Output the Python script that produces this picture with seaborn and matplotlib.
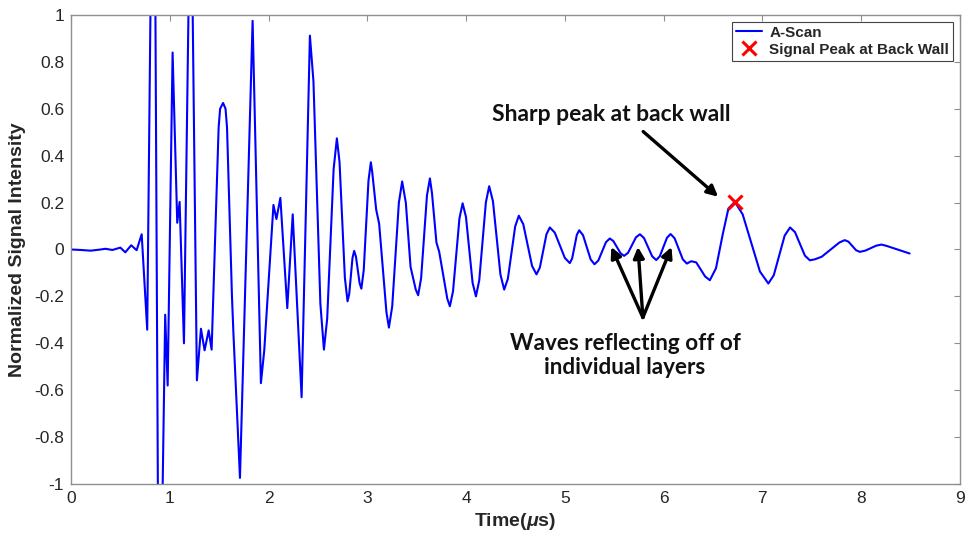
import matplotlib
matplotlib.use("Agg")
import matplotlib.pyplot as plt
import seaborn as sns
import pandas as pd

# ---- data (time in microseconds, normalized intensity) ----
time_us = [0.00, 0.10, 0.20, 0.30, 0.35, 0.42, 0.47, 0.50, 0.55, 0.61, 0.665, 0.716, 0.772,
           0.805, 0.83, 0.855, 0.88, 0.904, 0.928, 0.954, 0.979, 1.029, 1.076, 1.100, 1.144,
           1.19, 1.211, 1.232, 1.275, 1.316, 1.353, 1.394, 1.424, 1.495, 1.51, 1.54, 1.565,
           1.58, 1.63, 1.645, 1.711, 1.839, 1.923, 1.957, 2.05, 2.08, 2.12, 2.19, 2.245,
           2.335, 2.419, 2.455, 2.525, 2.561, 2.594, 2.659, 2.692, 2.719, 2.773, 2.80, 2.817,
           2.85, 2.867, 2.885, 2.922, 2.94, 2.964, 3.012, 3.036, 3.05, 3.09, 3.12, 3.194,
           3.219, 3.2525, 3.3195, 3.353, 3.39, 3.438, 3.49, 3.515, 3.545, 3.604, 3.634, 3.655,
           3.70, 3.728, 3.81, 3.836, 3.868, 3.933, 3.965, 3.999, 4.066, 4.10, 4.1335, 4.2005,
           4.234, 4.272, 4.348, 4.386, 4.423, 4.497, 4.534, 4.579, 4.668, 4.713, 4.747, 4.814,
           4.848, 4.898, 5.00, 5.05, 5.074, 5.121, 5.145, 5.184, 5.261, 5.30, 5.339, 5.416,
           5.455, 5.491, 5.564, 5.60, 5.64, 5.72, 5.76, 5.801, 5.884, 5.925, 5.961, 6.034,
           6.07, 6.111, 6.194, 6.235, 6.28, 6.33, 6.42, 6.468, 6.53, 6.60, 6.656, 6.72,
           6.80, 6.975, 7.06, 7.115, 7.225, 7.28, 7.33, 7.43, 7.48, 7.53, 7.60, 7.78,
           7.834, 7.872, 7.948, 7.986, 8.041, 8.15, 8.205, 8.26, 8.49]
signal = [0.000, -0.002, -0.005, 0.000, 0.003, -0.002, 0.004, 0.008, -0.012, 0.018, -0.003, 0.065, -0.342,
          1.02, 1.10, 1.02, -1.02, -1.10, -1.02, -0.278, -0.58, 0.84, 0.114, 0.203, -0.40,
          1.02, 1.10, 1.02, -0.558, -0.338, -0.43, -0.345, -0.427, 0.52, 0.60, 0.625, 0.60,
          0.52, -0.20, -0.36, -0.974, 0.975, -0.57, -0.43, 0.19, 0.13, 0.22, -0.25, 0.15,
          -0.63, 0.912, 0.717, -0.231, -0.427, -0.295, 0.342, 0.474, 0.373, -0.120, -0.221, -0.19,
          -0.037, -0.006, -0.03, -0.143, -0.167, -0.088, 0.293, 0.372, 0.33, 0.17, 0.11, -0.268,
          -0.333, -0.242, 0.199, 0.29, 0.20, -0.074, -0.17, -0.195, -0.122, 0.23, 0.303, 0.24,
          0.03, -0.01, -0.21, -0.242, -0.178, 0.133, 0.197, 0.139, -0.142, -0.200, -0.131, 0.201,
          0.270, 0.206, -0.107, -0.171, -0.125, 0.098, 0.144, 0.108, -0.07, -0.106, -0.077, 0.065,
          0.094, 0.072, -0.036, -0.058, -0.038, 0.062, 0.082, 0.061, -0.042, -0.063, -0.047, 0.031,
          0.047, 0.036, -0.016, -0.027, -0.014, 0.052, 0.065, 0.049, -0.029, -0.045, -0.029, 0.05,
          0.066, 0.048, -0.042, -0.060, -0.05, -0.055, -0.115, -0.131, -0.08, 0.068, 0.175, 0.203,
          0.15, -0.094, -0.145, -0.11, 0.059, 0.094, 0.074, -0.026, -0.046, -0.042, -0.031, 0.03,
          0.040, 0.033, -0.003, -0.010, -0.005, 0.016, 0.021, 0.015, -0.017]

peak_t = [6.72]
peak_v = [0.203]

x_ticks = [0, 1, 2, 3, 4, 5, 6, 7, 8, 9]
y_ticks = [-1, -0.8, -0.6, -0.4, -0.2, 0, 0.2, 0.4, 0.6, 0.8, 1]
y_tick_labels = ["-1", "-0.8", "-0.6", "-0.4", "-0.2", "0", "0.2", "0.4", "0.6", "0.8", "1"]

df = pd.DataFrame({"t": time_us, "v": signal})

sns.set_theme(style="white")
plt.rcParams["font.family"] = ["Liberation Sans", "DejaVu Sans"]
plt.rcParams["mathtext.fontset"] = "custom"
plt.rcParams["mathtext.it"] = "Liberation Sans:italic:bold"
plt.rcParams["mathtext.rm"] = "Liberation Sans:bold"

fig = plt.figure(figsize=(9.68, 5.38), dpi=100)
ax = fig.add_axes([0.0733, 0.1004, 0.9184, 0.8717])

sns.lineplot(data=df, x="t", y="v", ax=ax, color=(0, 0, 1), linewidth=1.5,
             estimator=None, sort=False, label="A-Scan")
ax.plot(peak_t, peak_v, linestyle="none", marker="x", color="red", markersize=10,
        markeredgewidth=2.2, label="Signal Peak at Back Wall")

ax.set_xlim(0, 9)
ax.set_ylim(-1, 1)
ax.set_xticks(x_ticks)
ax.set_xticklabels([str(x) for x in x_ticks])
ax.set_yticks(y_ticks)
ax.set_yticklabels(y_tick_labels)

spine_col = "#8f8f8f"
for s in ax.spines.values():
    s.set_visible(True)
    s.set_color(spine_col)
    s.set_linewidth(1.0)
ax.tick_params(axis="both", direction="in", length=4, width=0.8, color=spine_col,
               top=True, right=True, labelsize=12.5, labelcolor="#262626", pad=5)

ax.set_xlabel("Time($\\mu$s)", fontsize=14, fontweight="bold", color="#262626", labelpad=4)
ax.set_ylabel("Normalized Signal Intensity", fontsize=14, fontweight="bold",
              color="#262626", labelpad=6)

leg = ax.legend(loc="upper right", fontsize=11, frameon=True, fancybox=False,
                framealpha=1, edgecolor="#444444", borderaxespad=0.45,
                handlelength=1.7, handletextpad=0.5, borderpad=0.25, labelspacing=0.2,
                prop={"weight": "bold", "size": 11})
leg.get_frame().set_linewidth(0.8)

ann_font = {"family": ["Lato", "DejaVu Sans"], "weight": "bold", "size": 16.5}
ann_font2 = {"family": ["Lato", "DejaVu Sans"], "weight": "bold", "size": 16.2}
arrow_kw = dict(arrowstyle="-|>", color="black", lw=2.4, mutation_scale=16,
                shrinkA=0, shrinkB=0)

ax.annotate("", xy=(6.552, 0.225), xytext=(5.793, 0.503), arrowprops=arrow_kw)
ax.text(5.47, 0.575, "Sharp peak at back wall", ha="center", va="center",
        fontdict=ann_font, color="#111111")

for tip_t in [5.47, 5.74, 6.08]:
    ax.annotate("", xy=(tip_t, 0.011), xytext=(5.79, -0.29), arrowprops=arrow_kw)
ax.text(5.61, -0.40, "Waves reflecting off of", ha="center", va="center",
        fontdict=ann_font2, color="#111111")
ax.text(5.61, -0.505, "individual layers", ha="center", va="center",
        fontdict=ann_font2, color="#111111")

fig.savefig("out.png", dpi=100, facecolor="white")
